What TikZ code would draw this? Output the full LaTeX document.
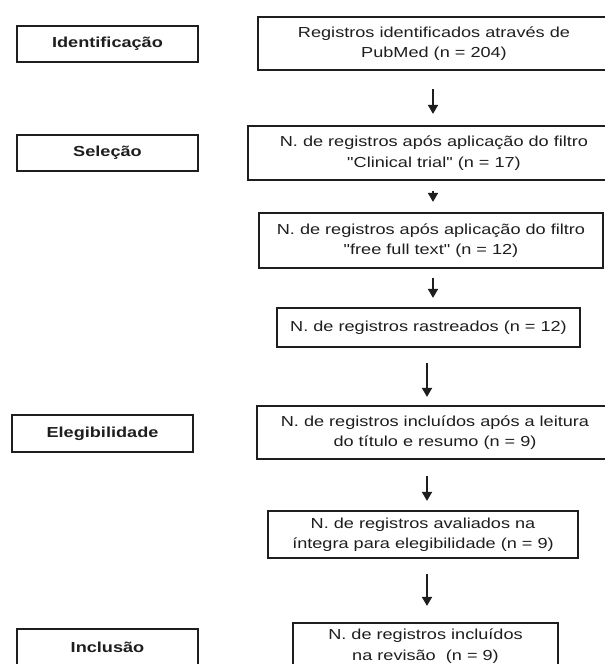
\documentclass[tikz,border=0pt]{standalone}
\usepackage{fontspec}
\setmainfont{Liberation Sans}[FakeStretch=1.25, Ligatures=TeXOff]
\usetikzlibrary{arrows.meta}
\definecolor{ink}{HTML}{1E1E1E}
\tikzset{
  flowbox/.style={draw=ink, line width=2.2pt, rectangle, inner sep=0pt, align=center,
    text=ink, font=\fontsize{14.5}{20.5}\selectfont},
  stagebox/.style={flowbox, font=\fontsize{14.5}{20.5}\selectfont\bfseries,
    minimum width=181pt, minimum height=36pt},
  flowarrow/.style={draw=ink, line width=1.8pt, -{Triangle[width=10pt,length=9pt]}}
}
\begin{document}
\begin{tikzpicture}[x=1pt,y=-1pt]
\path[use as bounding box] (0,0) rectangle (605,664);
\clip (0,0) rectangle (605,664);
\fill[white] (0,0) rectangle (605,664);
\coordinate (ax1) at (433,0);
\coordinate (ax2) at (427,0);
% stage labels
\node[stagebox] (ident) at (107.5,44) {Identificação};
\node[stagebox] (selec) at (107.5,153) {Seleção};
\node[stagebox, minimum height=37pt] (eleg) at (102.5,433.5) {Elegibilidade};
\node[stagebox] (incl) at (107.5,647) {Inclusão};
% flow boxes
\node[flowbox, minimum width=352pt, minimum height=53pt] (b1) at (434,43.5)
  {Registros identificados através de\\PubMed (n = 204)};
\node[flowbox, minimum width=372pt, minimum height=54pt] (b2) at (434,153)
  {N. de registros após aplicação do filtro\\"Clinical trial" (n = 17)};
\node[flowbox, minimum width=344pt, minimum height=55pt] (b3) at (431,240.5)
  {N. de registros após aplicação do filtro\\"free full text" (n = 12)};
\node[flowbox, minimum width=303pt, minimum height=39pt] (b4) at (428.5,327.5)
  {N. de registros rastreados (n = 12)};
\node[flowbox, minimum width=356pt, minimum height=53pt] (b5) at (435,432.5)
  {N. de registros incluídos após a leitura\\do título e resumo (n = 9)};
\node[flowbox, minimum width=310pt, minimum height=47pt] (b6) at (423,534.5)
  {N. de registros avaliados na\\íntegra para elegibilidade (n = 9)};
\node[flowbox, minimum width=265pt, minimum height=46pt] (b7) at (425.5,646)
  {N. de registros incluídos\\na revisão\ \ (n = 9)};
% arrows
\draw[flowarrow, shorten <=18pt, shorten >=11pt] (b1.south -| ax1) -- (b2.north -| ax1);
\draw[flowarrow, shorten <=10pt, shorten >=10pt] (b2.south -| ax1) -- (b3.north -| ax1);
\draw[flowarrow, shorten <=9pt, shorten >=9pt] (b3.south -| ax1) -- (b4.north -| ax1);
\draw[flowarrow, shorten <=15pt, shorten >=8pt] (b4.south -| ax2) -- (b5.north -| ax2);
\draw[flowarrow, shorten <=16pt, shorten >=9pt] (b5.south -| ax2) -- (b6.north -| ax2);
\draw[flowarrow, shorten <=15pt, shorten >=16pt] (b6.south -| ax2) -- (b7.north -| ax2);
\end{tikzpicture}
\end{document}
